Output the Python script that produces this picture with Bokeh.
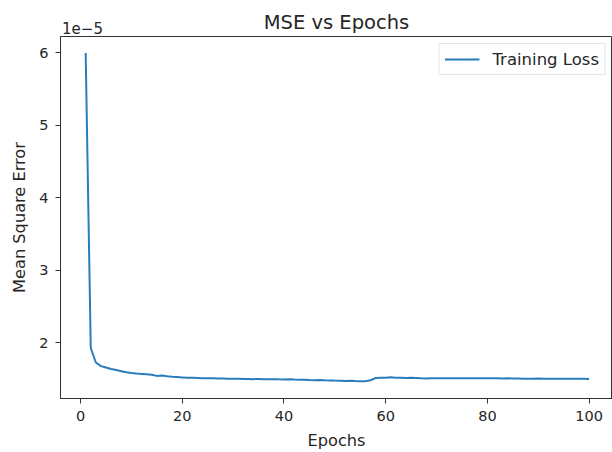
from bokeh.plotting import figure
from bokeh.models import Range1d, FixedTicker, Legend, LegendItem, LinearAxis
from bokeh.embed import file_html
from bokeh.resources import INLINE

# Data (loss values in units of 1e-5)
epochs = list(range(1, 101))
loss_e5 = [
    6.00, 1.93, 1.73, 1.68, 1.66, 1.64, 1.625, 1.61, 1.595, 1.585,
    1.578, 1.572, 1.566, 1.56, 1.545, 1.55, 1.54, 1.532, 1.528, 1.524,
    1.52, 1.518, 1.516, 1.514, 1.512, 1.511, 1.51, 1.509, 1.507, 1.506,
    1.505, 1.503, 1.502, 1.50, 1.503, 1.50, 1.498, 1.50, 1.497, 1.496,
    1.497, 1.494, 1.492, 1.49, 1.487, 1.486, 1.488, 1.485, 1.483, 1.48,
    1.479, 1.476, 1.478, 1.474, 1.472, 1.47, 1.485, 1.515, 1.518, 1.52,
    1.526, 1.52, 1.518, 1.515, 1.52, 1.517, 1.512, 1.51, 1.512, 1.514,
    1.512, 1.513, 1.511, 1.513, 1.512, 1.514, 1.513, 1.512, 1.513, 1.514,
    1.513, 1.512, 1.51, 1.511, 1.51, 1.508, 1.506, 1.504, 1.507, 1.508,
    1.507, 1.506, 1.507, 1.506, 1.505, 1.507, 1.506, 1.504, 1.505, 1.503,
]
x_ticks = [0, 20, 40, 60, 80, 100]
y_ticks = [2, 3, 4, 5, 6]
title_text = "MSE vs Epochs"
x_label = "Epochs"
y_label = "Mean Square Error"
series_name = "Training Loss"
offset_text = "1e\u22125"

FONT = "DejaVu Sans"
TXT = "#262626"

p = figure(width=612, height=452, output_backend="svg", toolbar_location=None,
           x_range=Range1d(-3.95, 104.6), y_range=Range1d(1.233, 6.227),
           min_border_left=60, min_border_right=0, min_border_top=36,
           min_border_bottom=54)

p.xgrid.visible = False
p.ygrid.visible = False
p.outline_line_color = "#333333"
p.outline_line_width = 1

for ax in (p.xaxis[0], p.yaxis[0]):
    ax.axis_line_color = "#333333"
    ax.major_tick_line_color = "#333333"
    ax.major_tick_out = 5
    ax.major_tick_in = 0
    ax.minor_tick_line_color = None
    ax.major_label_text_font = FONT
    ax.major_label_text_font_size = "14.5px"
    ax.major_label_text_color = TXT
    ax.axis_label_text_font = FONT
    ax.axis_label_text_font_size = "16.2px"
    ax.axis_label_text_font_style = "normal"
    ax.axis_label_text_color = TXT

p.xaxis.ticker = FixedTicker(ticks=x_ticks)
p.yaxis.ticker = FixedTicker(ticks=y_ticks)
p.xaxis.axis_label = x_label
p.yaxis.axis_label = y_label
p.xaxis.major_label_standoff = 7
p.yaxis.major_label_standoff = 7
p.xaxis.axis_label_standoff = 7
p.yaxis.axis_label_standoff = 7

r = p.line(epochs, loss_e5, line_color="#2a7dbb", line_width=2)

legend = Legend(items=[LegendItem(label=series_name, renderers=[r])],
                location="top_right")
legend.label_text_font = FONT
legend.label_text_font_size = "16.5px"
legend.label_text_color = TXT
legend.border_line_color = "#cccccc"
legend.border_line_width = 1
legend.background_fill_alpha = 0.8
legend.glyph_width = 35
legend.label_standoff = 13
legend.padding = 5
legend.margin = 7
legend.spacing = 0
p.add_layout(legend)

# Top "axis" carrying the offset text (1e-5) and the title
p.extra_x_ranges = {"px": Range1d(0, 552)}
top = LinearAxis(x_range_name="px", ticker=FixedTicker(ticks=[22]),
                 major_label_overrides={22: offset_text})
top.axis_line_color = None
top.major_tick_line_color = None
top.minor_tick_line_color = None
top.major_tick_out = 0
top.major_tick_in = 0
top.major_label_standoff = 3
top.major_label_text_font = FONT
top.major_label_text_font_size = "15px"
top.major_label_text_color = TXT
top.axis_label = title_text
top.axis_label_text_font = FONT
top.axis_label_text_font_size = "19.5px"
top.axis_label_text_font_style = "normal"
top.axis_label_text_color = TXT
top.axis_label_standoff = -15
p.add_layout(top, "above")

open("out.html", "w").write(file_html(p, INLINE))
